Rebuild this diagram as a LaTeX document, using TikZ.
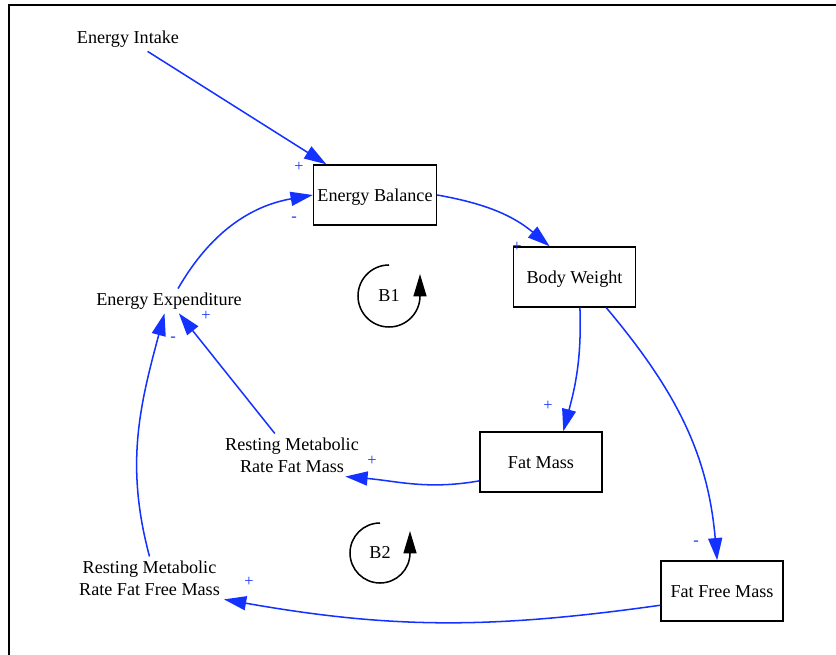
\documentclass[tikz,border=0pt]{standalone}
\usepackage{fontspec}
\setmainfont{Liberation Serif}
\usetikzlibrary{arrows.meta}
\definecolor{linkblue}{RGB}{20,50,255}

\begin{document}
\begin{tikzpicture}[x=0.03cm,y=0.03cm,
    every node/.style={font=\fontsize{15.5}{18.8}\selectfont},
    stock/.style={draw, line width=1.2pt, minimum width=3.66cm, minimum height=1.8cm, text height=14.7pt, text depth=3.4pt},
    link/.style={draw=linkblue, line width=1.3pt, -{Triangle[length=19pt,width=12pt]}},
    sign/.style={text=linkblue, inner sep=0pt, font=\fontsize{14}{16}\selectfont},
    loop/.style={line width=1.3pt, -{Triangle[length=19pt,width=11pt]}}]
    \useasboundingbox (0,0) rectangle (836,-655);
    \draw[line width=1.8pt] (836,-5) -- (9,-5) -- (9,-655);

    \node (intake) at (128,-39) {Energy Intake};
    \node[stock] (balance) at (375,-195) {Energy Balance};
    \node[stock] (weight) at (574.5,-277) {Body Weight};
    \node[stock] (fat) at (541,-462) {Fat Mass};
    \node[stock] (ffm) at (722,-591) {Fat Free Mass};
    \node (expend) at (169,-301) {Energy Expenditure};
    \node[align=center] (rmrfat) at (292,-455) {Resting Metabolic\\Rate Fat Mass};
    \node[align=center] (rmrffm) at (149.5,-578) {Resting Metabolic\\Rate Fat Free Mass};
    \node (b1) at (389,-296) {\raisebox{-2pt}{B1}};
    \node (b2) at (380,-553) {B2};

    \draw[loop] (b1.center) ++(0,31) arc[start angle=90, end angle=360, radius=31] -- ++(0,22);
    \draw[loop] (b2.center) ++(0,30) arc[start angle=90, end angle=360, radius=30] -- ++(0,22);

    \draw[link] (intake) -- (balance);
    \draw[link] (balance.east) to[out=-10,in=140] (weight.129);
    \draw[link] (weight.-80) to[out=-88,in=75] (fat.54);
    \draw[link] (weight.-44) to[out=-50,in=95] (ffm.99);
    \draw[link] (fat.197) to[out=190,in=-5] (rmrfat.-22);
    \draw[link] (rmrfat) -- (expend);
    \draw[link] (ffm.193) to[out=188,in=-10] (rmrffm.-16);
    \draw[link] (rmrffm.north) to[out=105,in=-105] (expend.-110);
    \draw[link] (expend.54) to[out=60,in=190] (balance.west);

    \node[sign] (s1) at (299,-167) {+};
    \node[sign] (s2) at (294,-219) {-};
    \node[sign] (s3) at (517,-247) {+};
    \node[sign] (s4) at (548,-406) {+};
    \node[sign] (s5) at (696,-543) {-};
    \node[sign] (s6) at (372,-461) {+};
    \node[sign] (s7) at (206,-316) {+};
    \node[sign] (s8) at (173,-339) {-};
    \node[sign] (s9) at (249,-582) {+};
\end{tikzpicture}
\end{document}
